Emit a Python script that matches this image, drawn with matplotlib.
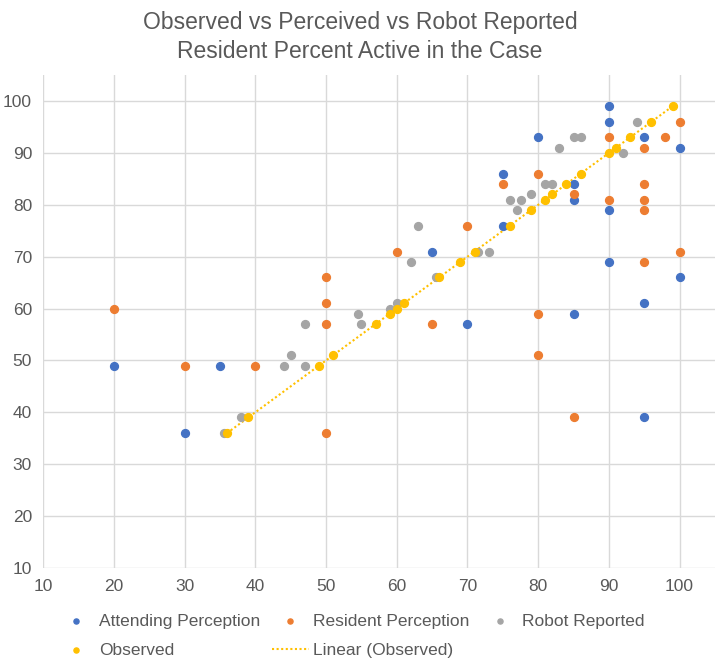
import matplotlib.pyplot as plt

plt.rcParams['font.family'] = ['Liberation Sans', 'DejaVu Sans']

# Attending perception (x = observed %, y = perceived %)
attending_x = [20, 30, 35, 65, 70, 75, 75, 80, 85, 85, 85, 90, 90, 90, 90, 95, 95, 95, 100, 100]
attending_y = [49, 36, 49, 71, 57, 86, 76, 93, 84, 81, 59, 99, 96, 79, 69, 93, 61, 39, 91, 66]

# Resident perception
resident_x = [20, 30, 40, 50, 50, 50, 50, 60, 65, 70, 75, 80, 80, 80, 85, 85, 90, 90,
              95, 95, 95, 95, 95, 98, 100, 100]
resident_y = [60, 49, 49, 66, 61, 57, 36, 71, 57, 76, 84, 86, 59, 51, 82, 39, 93, 81,
              91, 84, 81, 79, 69, 93, 96, 71]

# Robot reported
robot_x = [35.5, 38, 44, 45, 47, 47, 54.5, 55, 59, 60, 62, 63, 65.5, 71.5, 73, 76, 77.5,
           77, 79, 81, 82, 83, 85, 86, 92, 94]
robot_y = [36, 39, 49, 51, 49, 57, 59, 57, 60, 61, 69, 76, 66, 71, 71, 81, 81,
           79, 82, 84, 84, 91, 93, 93, 90, 96]

# Observed
observed = [36, 39, 49, 51, 57, 59, 60, 61, 66, 69, 71, 76, 79, 81, 82, 84, 86, 90, 91,
            93, 96, 99]

c_att = '#4472C4'
c_res = '#ED7D31'
c_rob = '#A5A5A5'
c_obs = '#FFC000'
txt = '#595959'

fig = plt.figure(figsize=(7.2, 6.65), dpi=100)
ax = fig.add_axes([0.06, 0.146, 0.933, 0.741])

s = 32
h_att = ax.scatter(attending_x, attending_y, s=s, color=c_att, zorder=3, label='Attending Perception')
h_res = ax.scatter(resident_x, resident_y, s=s, color=c_res, zorder=3, label='Resident Perception')
h_rob = ax.scatter(robot_x, robot_y, s=s, color=c_rob, zorder=3, label='Robot Reported')
h_obs = ax.scatter(observed, observed, s=s, color=c_obs, zorder=4, label='Observed')

# linear trend of observed (y = x)
xs = [min(observed), max(observed)]
h_lin, = ax.plot(xs, xs, linestyle=(0, (1, 1.2)), color=c_obs, lw=1.5, zorder=2,
                 label='Linear (Observed)')

ax.set_xlim(10, 105)
ax.set_ylim(10, 105)
ax.set_xticks(range(10, 101, 10))
ax.set_yticks(range(10, 101, 10))
ax.grid(True, color='#D9D9D9', lw=1)
ax.set_axisbelow(True)
for sp in ax.spines.values():
    sp.set_visible(False)
ax.tick_params(length=0, labelsize=12.5, labelcolor=txt, pad=8)

fig.text(0.5, 0.983, 'Observed vs Perceived vs Robot Reported\nResident Percent Active in the Case',
         ha='center', va='top', fontsize=16.5, color=txt, linespacing=1.3)

handles = [h_att, h_obs, h_res, h_lin, h_rob]
fig.legend(handles=handles, labels=[hh.get_label() for hh in handles], ncol=3,
           loc='upper left', bbox_to_anchor=(0.0806, 0.077), borderaxespad=0, borderpad=0,
           frameon=False, fontsize=12.5, labelcolor=txt, handlelength=2.1,
           handletextpad=0.25, columnspacing=0.7, labelspacing=0.8, markerscale=0.65)

fig.savefig('out.png', dpi=100)
